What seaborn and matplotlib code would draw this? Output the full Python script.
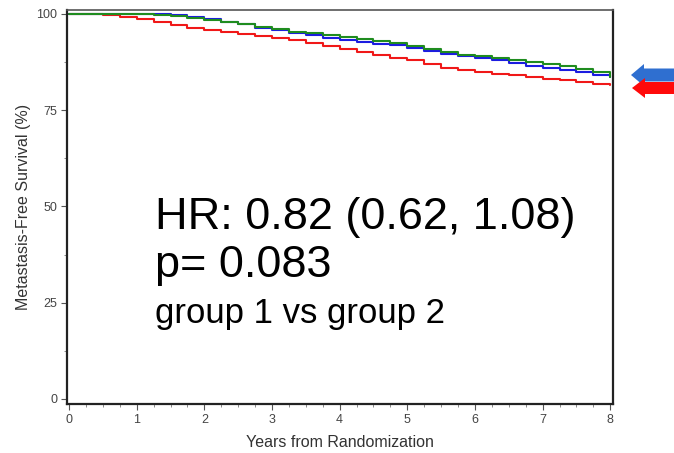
import numpy as np
import pandas as pd
import matplotlib
matplotlib.use("Agg")
import matplotlib.pyplot as plt
from matplotlib.patches import Polygon
from matplotlib.ticker import MultipleLocator
import seaborn as sns

# Kaplan-Meier estimates (%), read at quarter-year intervals
years = [0.0, 0.25, 0.5, 0.75, 1.0, 1.25, 1.5, 1.75, 2.0, 2.25, 2.5, 2.75,
         3.0, 3.25, 3.5, 3.75, 4.0, 4.25, 4.5, 4.75, 5.0, 5.25, 5.5, 5.75,
         6.0, 6.25, 6.5, 6.75, 7.0, 7.25, 7.5, 7.75, 8.0]
surv_red = [100.0, 100.0, 99.7, 99.3, 98.6, 97.9, 97.1, 96.4, 95.7, 95.2, 94.7, 94.2,
            93.7, 93.1, 92.4, 91.7, 91.0, 90.2, 89.3, 88.6, 88.0, 87.0, 86.0, 85.3,
            84.8, 84.4, 84.0, 83.6, 83.2, 82.8, 82.4, 81.8, 81.6]
surv_blue = [100.0, 100.0, 100.0, 100.0, 100.0, 99.9, 99.6, 99.2, 98.6, 98.0, 97.3, 96.4,
             95.7, 95.0, 94.4, 93.8, 93.1, 92.7, 92.3, 91.8, 91.2, 90.3, 89.5, 89.0,
             88.5, 88.1, 87.3, 86.5, 85.9, 85.3, 84.8, 84.1, 83.5]
surv_green = [100.0, 100.0, 100.0, 100.0, 100.0, 99.7, 99.4, 99.0, 98.5, 98.0, 97.4, 96.7,
              96.0, 95.4, 94.9, 94.5, 94.0, 93.4, 93.0, 92.4, 91.7, 90.8, 90.0, 89.4,
              89.0, 88.6, 88.1, 87.6, 87.1, 86.5, 85.7, 84.8, 83.7]
arms = ["red", "blue", "green"]
arm_colors = {"red": "#f01818", "blue": "#1c1ce0", "green": "#1f8c1f"}

x_ticks = [0, 1, 2, 3, 4, 5, 6, 7, 8]
y_ticks = [0, 25, 50, 75, 100]
x_label = "Years from Randomization"
y_label = "Metastasis-Free Survival (%)"
hr_text = "HR: 0.82 (0.62, 1.08)"
p_text = "p= 0.083"
cmp_text = "group 1 vs group 2"

df = pd.DataFrame({
    "years": years * 3,
    "survival": surv_red + surv_blue + surv_green,
    "arm": [a for a in arms for _ in years],
})

sns.set_style("white")
plt.rcParams["font.family"] = ["Liberation Sans", "DejaVu Sans"]

fig = plt.figure(figsize=(6.74, 4.53), dpi=100)
W, H = 674, 453
ax = fig.add_axes([67 / W, 1 - 404 / H, (613 - 67) / W, (404 - 10) / H])

sns.lineplot(data=df, x="years", y="survival", hue="arm", hue_order=arms,
             palette=arm_colors, drawstyle="steps-post", linewidth=1.5,
             legend=False, ax=ax)

ax.set_xlim(-0.03, 8.04)
ax.set_ylim(-1.3, 101.0)
ax.set_xticks(x_ticks)
ax.set_yticks(y_ticks)
ax.xaxis.set_minor_locator(MultipleLocator(0.25))
ax.yaxis.set_minor_locator(MultipleLocator(12.5))
ax.tick_params(axis="both", which="major", length=4, width=0.8, color="#555555",
               labelsize=9, labelcolor="#444444", pad=3)
ax.tick_params(axis="both", which="minor", length=2.5, width=0.6, color="#777777")
ax.tick_params(bottom=True, left=True, which="both")
ax.set_xlabel(x_label, fontsize=11.5, color="#333333", labelpad=7)
ax.set_ylabel(y_label, fontsize=11.5, color="#333333", labelpad=4)
for side in ["left", "bottom", "right"]:
    ax.spines[side].set_color("#222222")
    ax.spines[side].set_linewidth(1.6)
ax.spines["top"].set_color("#555555")
ax.spines["top"].set_linewidth(1.2)

# Hazard ratio annotation
fig.text(155 / W, 1 - 217 / H, hr_text, fontsize=32.5, color="black", va="center", ha="left")
fig.text(155 / W, 1 - 266 / H, p_text, fontsize=32.5, color="black", va="center", ha="left")
fig.text(155 / W, 1 - 314 / H, cmp_text, fontsize=25, color="black", va="center", ha="left")

# Pointer arrows at the right margin (pixel overlay)
ov = fig.add_axes([0, 0, 1, 1], facecolor="none")
ov.set_xlim(0, W)
ov.set_ylim(H, 0)
ov.axis("off")


def left_arrow(tip_x, cy, head_len, head_half, body_half, color):
    pts = [(tip_x, cy), (tip_x + head_len, cy - head_half),
           (tip_x + head_len, cy - body_half), (W + 2, cy - body_half),
           (W + 2, cy + body_half), (tip_x + head_len, cy + body_half),
           (tip_x + head_len, cy + head_half)]
    ov.add_patch(Polygon(pts, closed=True, facecolor=color, edgecolor="none"))


left_arrow(631, 75, 13, 11, 6.5, "#2f6fd0")
left_arrow(632, 88, 13, 10, 6.0, "#ff0a0a")

fig.savefig("out.png", dpi=100)
